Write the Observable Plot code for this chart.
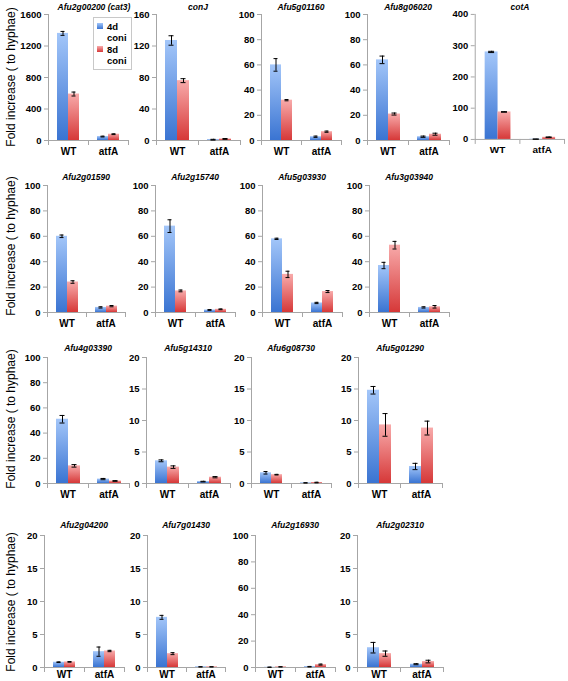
<!DOCTYPE html>
<html><head><meta charset="utf-8">
<script src="https://cdn.jsdelivr.net/npm/d3@7"></script>
<script src="https://cdn.jsdelivr.net/npm/@observablehq/plot@0.6"></script>
<style>
body{margin:0;background:#fff;}
#root{position:relative;width:568px;height:681px;overflow:hidden;font-family:"Liberation Sans",Arial,sans-serif;}
.panel{position:absolute;}
.panel svg{overflow:visible;}
.title{position:absolute;font:italic bold 8.5px "Liberation Sans",Arial,sans-serif;white-space:nowrap;transform:translate(-50%,-50%);}
.ylab{position:absolute;font:12px "Liberation Sans",Arial,sans-serif;white-space:nowrap;transform:translate(-50%,-50%) rotate(-90deg);}
.legend{position:absolute;border:1px solid #c8c8c8;background:#fff;font:bold 9.5px "Liberation Sans",Arial,sans-serif;line-height:11px;padding:2px 4px 2px 3px;}
.legend .it{display:flex;align-items:flex-start;margin:1px 0;}
.legend .sw{width:6px;height:6px;margin:2px 4px 0 0;flex:none;}
</style>
</head><body>
<svg width="0" height="0" style="position:absolute">
 <defs>
  <linearGradient id="gBlue" x1="0" y1="0" x2="0" y2="1">
   <stop offset="0" stop-color="#a3c6f9"/><stop offset="1" stop-color="#3a74d2"/>
  </linearGradient>
  <linearGradient id="gRed" x1="0" y1="0" x2="0" y2="1">
   <stop offset="0" stop-color="#f8abab"/><stop offset="1" stop-color="#d63838"/>
  </linearGradient>
 </defs>
</svg>
<div id="root"></div>
<script>
// ---- data ----
const genes = ["Afu2g00200 (cat3)","conJ","Afu5g01160","Afu8g06020","cotA",
  "Afu2g01590","Afu2g15740","Afu5g03930","Afu3g03940",
  "Afu4g03390","Afu5g14310","Afu6g08730","Afu5g01290",
  "Afu2g04200","Afu7g01430","Afu2g16930","Afu2g02310"];
const groups = ["WT","atfA"];
const seriesNames = ["4d coni","8d coni"];
const legendLabels = [["4d","coni"],["8d","coni"]];
const yMax  = [1600,160,100,100,400, 100,100,100,100, 100,20,20,20, 20,20,100,20];
const yStep = [400,40,20,20,100, 20,20,20,20, 20,5,5,5, 5,5,20,5];
const wt4d     = [1360,127,60,64,280, 60,68,58,37, 51,3.6,1.7,14.8, 0.8,7.6,0.2,3.0];
const wt4dErr  = [25,6,5,3,2, 1,5,0.5,2.5, 3,0.15,0.2,0.6, 0.05,0.3,0.1,0.8];
const wt8d     = [590,76,32,21,88, 24,17,30,53, 14,2.6,1.4,9.3, 0.85,2.1,0.5,2.1];
const wt8dErr  = [25,2.5,0.5,0.8,1, 1,0.7,2.5,3, 1,0.2,0.05,1.8, 0.05,0.15,0.1,0.4];
const atf4d    = [50,1,3,3,1, 4,2,7.5,4, 3.5,0.3,0.1,2.7, 2.4,0.1,0.6,0.5];
const atf4dErr = [5,0.5,0.5,0.5,0.3, 0.5,0.3,0.5,0.5, 0.5,0.05,0.02,0.5, 0.7,0.02,0.2,0.08];
const atf8d    = [80,2,7,5,7, 5,2.5,16.5,4.5, 2,1.0,0.15,8.8, 2.5,0.1,2.2,0.9];
const atf8dErr = [5,0.5,0.5,0.8,1, 0.5,0.3,0.8,1, 0.3,0.1,0.05,1.1, 0.1,0.02,0.4,0.2];
const yAxisTitle = "Fold increase ( to hyphae)";

// ---- layout ----
const panelRow = [0,0,0,0,0, 1,1,1,1, 2,2,2,2, 3,3,3,3];
const panelLeft = [48,156,261,367,475, 47,155,262,369, 47,146,251,358, 44,147,255,357];
const panelWidth = [80,84,80,82,90, 78,80,80,80, 82,84,80,84, 80,78,80,86];
const rowTop = [14,185,357,535];
const rowZero = [140,312,483,667];
const rowTitleY = [7,177,348,525];
const rowLabelY = [77,246,419,602];
const rowLabelPad = [7,7,7,3];

const root = document.getElementById("root");
const mL = 34, mR = 4, mT = 8, mB = 22;
const axisGray = "#a6a6a6";

genes.forEach((g, i) => {
  const r = panelRow[i];
  const vals = [[wt4d[i], wt4dErr[i]],[wt8d[i], wt8dErr[i]],[atf4d[i], atf4dErr[i]],[atf8d[i], atf8dErr[i]]];
  const rows = [];
  groups.forEach((grp, gi) => seriesNames.forEach((s, si) => {
    const [v, e] = vals[gi*2+si];
    rows.push({group: grp, series: s, value: v, lo: v - e, hi: v + e});
  }));
  const h = rowZero[r] - rowTop[r];
  const ticks = d3.range(0, yMax[i] + yStep[i]/2, yStep[i]);
  const plot = Plot.plot({
    width: panelWidth[i] + mL + mR,
    height: h + mT + mB,
    marginLeft: mL, marginRight: mR, marginTop: mT, marginBottom: mB,
    style: {fontFamily: "'Liberation Sans', Arial, sans-serif", fontSize: "9.5px", fontWeight: "bold", color: "#000", background: "transparent"},
    fx: {domain: groups, paddingInner: 0, paddingOuter: 0, label: null, axis: null},
    x: {domain: seriesNames, paddingInner: 0, paddingOuter: 0.68, axis: null},
    y: {domain: [0, yMax[i]], axis: null},
    marks: [
      Plot.frame({anchor: "left", stroke: axisGray, facetAnchor: "left"}),
      Plot.axisY({ticks, tickSize: 4, tickPadding: 3, stroke: axisGray, fill: "#000", label: null, tickFormat: d3.format("d")}),
      Plot.barY(rows.filter(d => d.series === seriesNames[0]), {fx: "group", x: "series", y: "value", fill: "url(#gBlue)"}),
      Plot.barY(rows.filter(d => d.series === seriesNames[1]), {fx: "group", x: "series", y: "value", fill: "url(#gRed)"}),
      Plot.ruleY([0], {stroke: axisGray}),
      Plot.frame({anchor: "left", stroke: axisGray, insetTop: h, insetBottom: -4}),
      Plot.frame({anchor: "right", stroke: axisGray, insetTop: h, insetBottom: -4, facetAnchor: "right"}),
      Plot.ruleX(rows, {fx: "group", x: "series", y1: "lo", y2: "hi", stroke: "#000", strokeWidth: 1}),
      Plot.tickY(rows, {fx: "group", x: "series", y: "lo", stroke: "#000", insetLeft: 3.5, insetRight: 3.5}),
      Plot.tickY(rows, {fx: "group", x: "series", y: "hi", stroke: "#000", insetLeft: 3.5, insetRight: 3.5}),
      Plot.axisFx({domain: groups, anchor: "bottom", tickSize: 0, tickPadding: rowLabelPad[r], label: null, fill: "#000", fontSize: 10})
    ]
  });
  const div = document.createElement("div");
  div.className = "panel";
  div.style.left = (panelLeft[i] - mL) + "px";
  div.style.top = (rowTop[r] - mT) + "px";
  div.appendChild(plot);
  root.appendChild(div);

  const t = document.createElement("div");
  t.className = "title";
  t.textContent = g;
  t.style.left = (panelLeft[i] + panelWidth[i]/2 + (i === 0 ? 6 : 0)) + "px";
  t.style.top = rowTitleY[r] + "px";
  root.appendChild(t);
});

rowLabelY.forEach(y => {
  const d = document.createElement("div");
  d.className = "ylab";
  d.textContent = yAxisTitle;
  d.style.left = "11px";
  d.style.top = y + "px";
  root.appendChild(d);
});

// legend (first panel)
const leg = document.createElement("div");
leg.className = "legend";
leg.style.left = "93px";
leg.style.top = "17px";
[0, 1].forEach(k => {
  const it = document.createElement("div");
  it.className = "it";
  const sw = document.createElement("div");
  sw.className = "sw";
  sw.style.background = k === 0 ? "linear-gradient(#a3c6f9,#3a74d2)" : "linear-gradient(#f8abab,#d63838)";
  const tx = document.createElement("div");
  tx.innerHTML = legendLabels[k][0] + "<br>" + legendLabels[k][1];
  it.appendChild(sw); it.appendChild(tx);
  leg.appendChild(it);
});
root.appendChild(leg);
</script>
</body></html>
